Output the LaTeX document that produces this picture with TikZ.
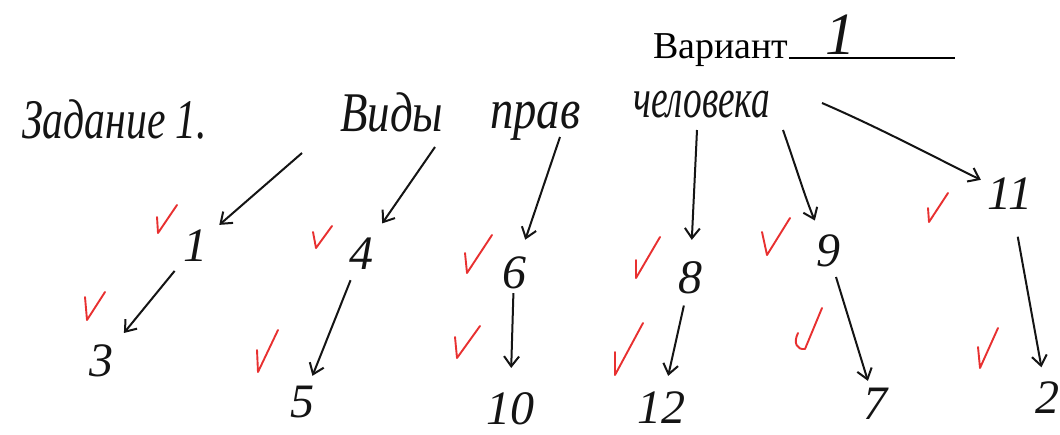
\documentclass[tikz,border=0pt]{standalone}
\usepackage{fontspec}
\usepackage{graphicx}
\setmainfont{Liberation Serif}
\usetikzlibrary{arrows.meta}
\definecolor{inkred}{RGB}{232,48,48}
\definecolor{ink}{RGB}{20,20,20}
\newcommand{\fitw}[2]{\resizebox{#1}{\height}{\itshape #2}}
\begin{document}
\begin{tikzpicture}[x=1pt,y=-1pt,
  hand/.style={inner sep=0, anchor=base west, font=\fontsize{56}{56}\selectfont, text=ink},
  num/.style={circle, inner sep=0, minimum size=54pt, font=\fontsize{48}{48}\selectfont\itshape, text=ink},
  arr/.style={draw=ink, line width=2pt, -{Straight Barb[length=10pt,width=15pt,line width=2pt]}},
  chk/.style={draw=inkred, line width=1.9pt, line join=round, line cap=round}]
\useasboundingbox[fill=white] (0,0) rectangle (1060,434);

% header
\node[inner sep=0, anchor=base west, font=\fontsize{38}{38}\selectfont] (var) at (653,58) {Вариант};
\coordinate (uend) at (955,58);
\draw[line width=1.1pt] (var.base east) -- (uend);
\node[inner sep=0, font=\fontsize{60}{60}\selectfont\itshape, text=ink] (varnum) at (840,35) {1};

% handwritten title words
\node[hand] (title) at (22,138) {\fitw{185pt}{Задание 1.}};
\node[hand] (w1) at (340,131) {\fitw{103pt}{Виды}};
\node[hand] (w2) at (490,128) {\fitw{90pt}{прав}};
\node[hand] (w3) at (633,117) {\fitw{137pt}{человека}};

% arrow tails under the heading
\coordinate (t1) at (302,153);
\coordinate (t4) at (435,147);
\coordinate (t6) at (560,137);
\coordinate (t8) at (697,130);
\coordinate (t9) at (783,130);
\coordinate (t11) at (822,103);

% numbers
\node[num] (n1) at (195,246) {1};
\node[num] (n3) at (101,361) {3};
\node[num] (n4) at (361,254) {4};
\node[num] (n5) at (302,402) {5};
\node[num] (n6) at (514,273) {6};
\node[num] (n10) at (510,409) {10};
\node[num] (n8) at (690,278) {8};
\node[num] (n12) at (661,408) {12};
\node[num] (n9) at (828,251) {9};
\node[num] (n7) at (875,404) {7};
\node[num] (n11) at (1010,194) {11};
\node[num] (n2) at (1047,398) {2};

% arrows
\draw[arr, shorten >=5pt] (t1) -- (n1);
\draw[arr, shorten <=5pt, shorten >=9pt] (n1) -- (n3);
\draw[arr, shorten >=10pt] (t4) -- (n4);
\draw[arr, shorten <=1pt, shorten >=1pt] (n4) -- (n5);
\draw[arr, shorten >=8pt] (t6) -- (n6);
\draw[arr, shorten <=-7pt, shorten >=12pt] (n6) -- (n10);
\draw[arr, shorten >=11pt] (t8) -- (n8);
\draw[arr, shorten <=1pt, shorten >=4pt] (n8) -- (n12);
\draw[arr, shorten >=6pt] (t9) .. controls (797,170) and (806,200) .. (n9);
\draw[arr, shorten >=-3pt] (n9) -- (n7);
\draw[arr, shorten >=5pt] (t11) .. controls (880,128) and (940,160) .. (n11);
\draw[arr, shorten <=16pt, shorten >=4pt] (n11) -- (n2);

% red check marks
\draw[chk] (157,217) -- (158,233) -- (177,205);
\draw[chk] (85,297) -- (87,320) -- (105,292);
\draw[chk] (313,232) -- (316,248) -- (332,226);
\draw[chk] (257,350) -- (258,372) -- (278,330);
\draw[chk] (465,253) -- (467,273) -- (492,235);
\draw[chk] (455,337) -- (457,358) -- (480,326);
\draw[chk] (636,260) -- (636,278) -- (660,237);
\draw[chk] (615,352) -- (615,375) -- (643,323);
\draw[chk] (762,232) -- (767,255) -- (790,218);
\draw[chk] (798,333) .. controls (793,343) and (797,350) .. (805,349) -- (822,308);
\draw[chk] (928,208) -- (929,222) -- (948,193);
\draw[chk] (978,347) -- (980,368) -- (998,328);
\end{tikzpicture}
\end{document}
